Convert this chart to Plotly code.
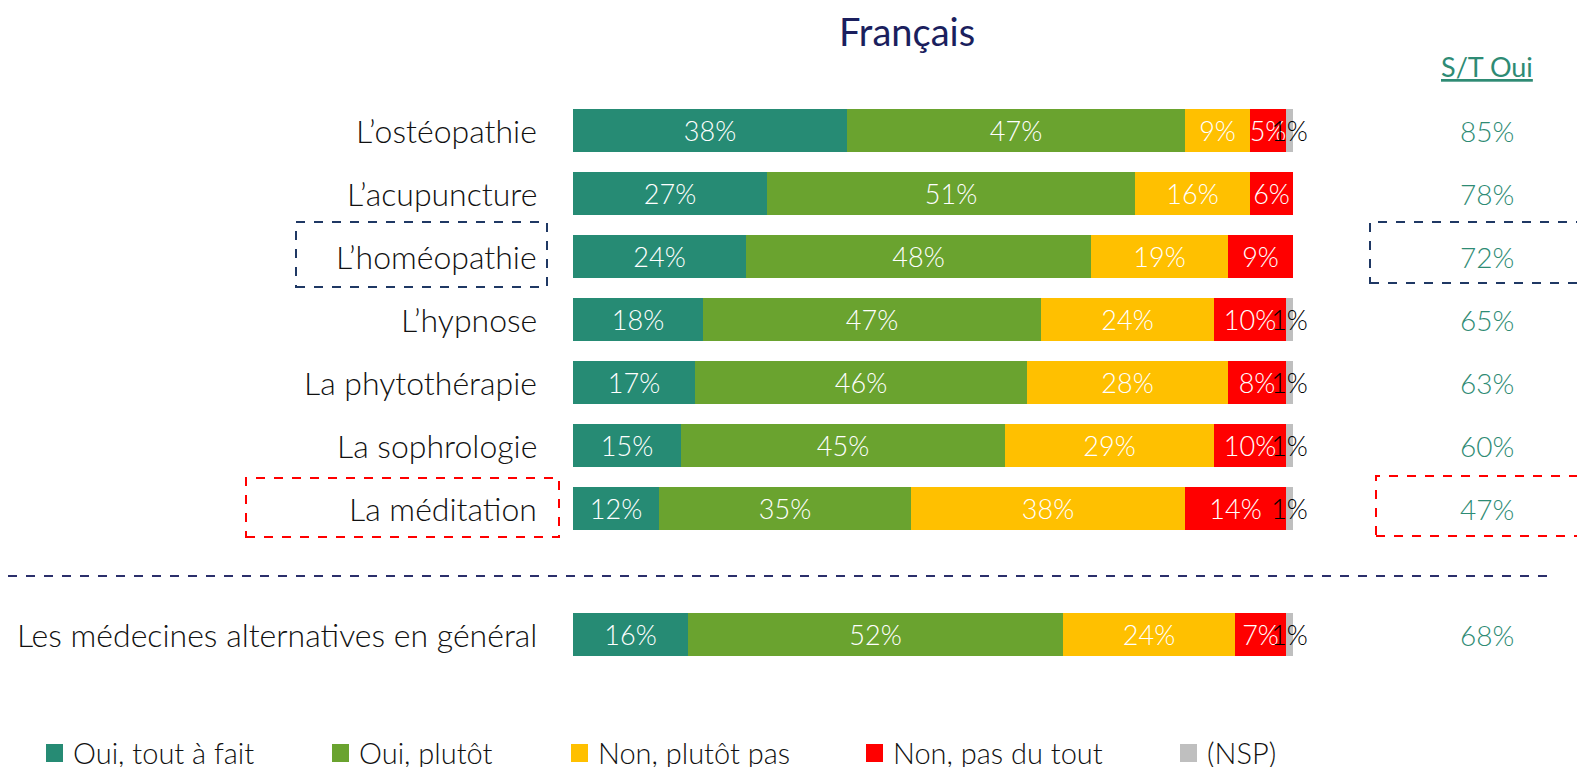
import plotly.graph_objects as go

# ---------------- data ----------------
categories = ["L’ostéopathie", "L’acupuncture ", "L’homéopathie", "L’hypnose",
              "La phytothérapie", "La sophrologie ", "La méditation",
              "Les médecines alternatives en général"]
row_pos = [0, 1, 2, 3, 4, 5, 6, 8]

series_names = ["Oui, tout à fait", "Oui, plutôt", "Non, plutôt pas", "Non, pas du tout", "(NSP)"]
oui_tout_a_fait = [38, 27, 24, 18, 17, 15, 12, 16]
oui_plutot      = [47, 51, 48, 47, 46, 45, 35, 52]
non_plutot_pas  = [9, 16, 19, 24, 28, 29, 38, 24]
non_pas_du_tout = [5, 6, 9, 10, 8, 10, 14, 7]
nsp             = [1, 0, 0, 1, 1, 1, 1, 1]
st_oui          = [85, 78, 72, 65, 63, 60, 47, 68]

series_values = [oui_tout_a_fait, oui_plutot, non_plutot_pas, non_pas_du_tout, nsp]
colors = ["#268B74", "#6AA32F", "#FFC000", "#FF0000", "#BFBFBF"]
text_colors = ["white", "white", "white", "white", "black"]

# ---------------- geometry helpers (page pixels) ----------------
OFF = 8                      # default body margin of the html page
W, H = 1585 - OFF, 767 - OFF
PL, PR, PT, PB = 573, 1293, 99, 666   # plot area in page pixels

def px(x):
    return (x - PL) / (PR - PL)

def py(y):
    return (PB - y) / (PB - PT)

FONT = "Lato, 'Open Sans', sans-serif"
TEAL_TXT = "#2E8B74"
NAVY = "#1F3864"

fig = go.Figure()
for name, vals, col, tcol in zip(series_names, series_values, colors, text_colors):
    fig.add_trace(go.Bar(
        y=row_pos, x=vals, orientation="h", name=name,
        marker=dict(color=col, line=dict(width=0)),
        width=0.69,
        text=[f"{v}%" if v > 0 else "" for v in vals],
        textposition="inside", insidetextanchor="middle", textangle=0,
        textfont=dict(family=FONT, size=27, color=tcol, weight=300),
        constraintext="none", cliponaxis=False,
        hoverinfo="skip", showlegend=False,
    ))

annotations = []
# category labels
for cat, r in zip(categories, row_pos):
    annotations.append(dict(
        x=px(539), xref="paper", y=r, yref="y", text=cat.rstrip(),
        xanchor="right", yanchor="middle", showarrow=False,
        font=dict(family=FONT, size=32, color="#111111", weight=300),
    ))
# S/T Oui values
for v, r in zip(st_oui, row_pos):
    annotations.append(dict(
        x=px(1487), xref="paper", y=r, yref="y", text=f"{v}%",
        xanchor="center", yanchor="middle", showarrow=False,
        font=dict(family=FONT, size=28, color=TEAL_TXT, weight=300),
    ))
# S/T Oui header
annotations.append(dict(
    x=px(1487), xref="paper", y=py(66), yref="paper", text="<u>S/T Oui</u>",
    xanchor="center", yanchor="middle", showarrow=False,
    font=dict(family=FONT, size=27, color=TEAL_TXT),
))
# title
annotations.append(dict(
    x=px(907), xref="paper", y=py(31), yref="paper", text="Français",
    xanchor="center", yanchor="middle", showarrow=False,
    font=dict(family=FONT, size=38, color="#1B1F5E"),
))

shapes = []
# dashed highlight boxes
for (x0, x1, y0, y1, c) in [(296, 547, 222, 287, NAVY), (1370, 1600, 222, 283, NAVY),
                            (246, 559, 478, 537, "#FF0000"), (1376, 1600, 476, 536, "#FF0000")]:
    shapes.append(dict(type="rect", xref="paper", yref="paper",
                       x0=px(x0), x1=px(x1), y0=py(y1), y1=py(y0),
                       line=dict(color=c, width=2, dash="dash")))
# separator
shapes.append(dict(type="line", xref="paper", yref="paper",
                   x0=px(8), x1=px(1552), y0=py(576), y1=py(576),
                   line=dict(color="#2B2F6B", width=2, dash="dash")))

# manual legend
legend_x = [46, 332, 571, 866, 1180]
LY = 752
for name, col, lx in zip(series_names, colors, legend_x):
    shapes.append(dict(type="rect", xref="paper", yref="paper",
                       x0=px(lx), x1=px(lx + 17), y0=py(LY + 10), y1=py(LY - 8),
                       fillcolor=col, line=dict(width=0)))
    annotations.append(dict(
        x=px(lx + 25), xref="paper", y=py(LY), yref="paper", text=name,
        xanchor="left", yanchor="middle", showarrow=False,
        font=dict(family=FONT, size=29, color="#111111", weight=300),
    ))

fig.update_layout(
    barmode="stack",
    width=W, height=H,
    margin=dict(l=PL - OFF, r=W - (PR - OFF), t=PT - OFF, b=H - (PB - OFF), pad=0),
    paper_bgcolor="white", plot_bgcolor="white",
    xaxis=dict(range=[0, 100], visible=False, fixedrange=True),
    yaxis=dict(range=[8.5, -0.5], visible=False, fixedrange=True),
    uniformtext=dict(minsize=27, mode="show"),
    annotations=annotations, shapes=shapes,
    bargap=0,
)

fig.write_html("out.html", config={"displayModeBar": False})
